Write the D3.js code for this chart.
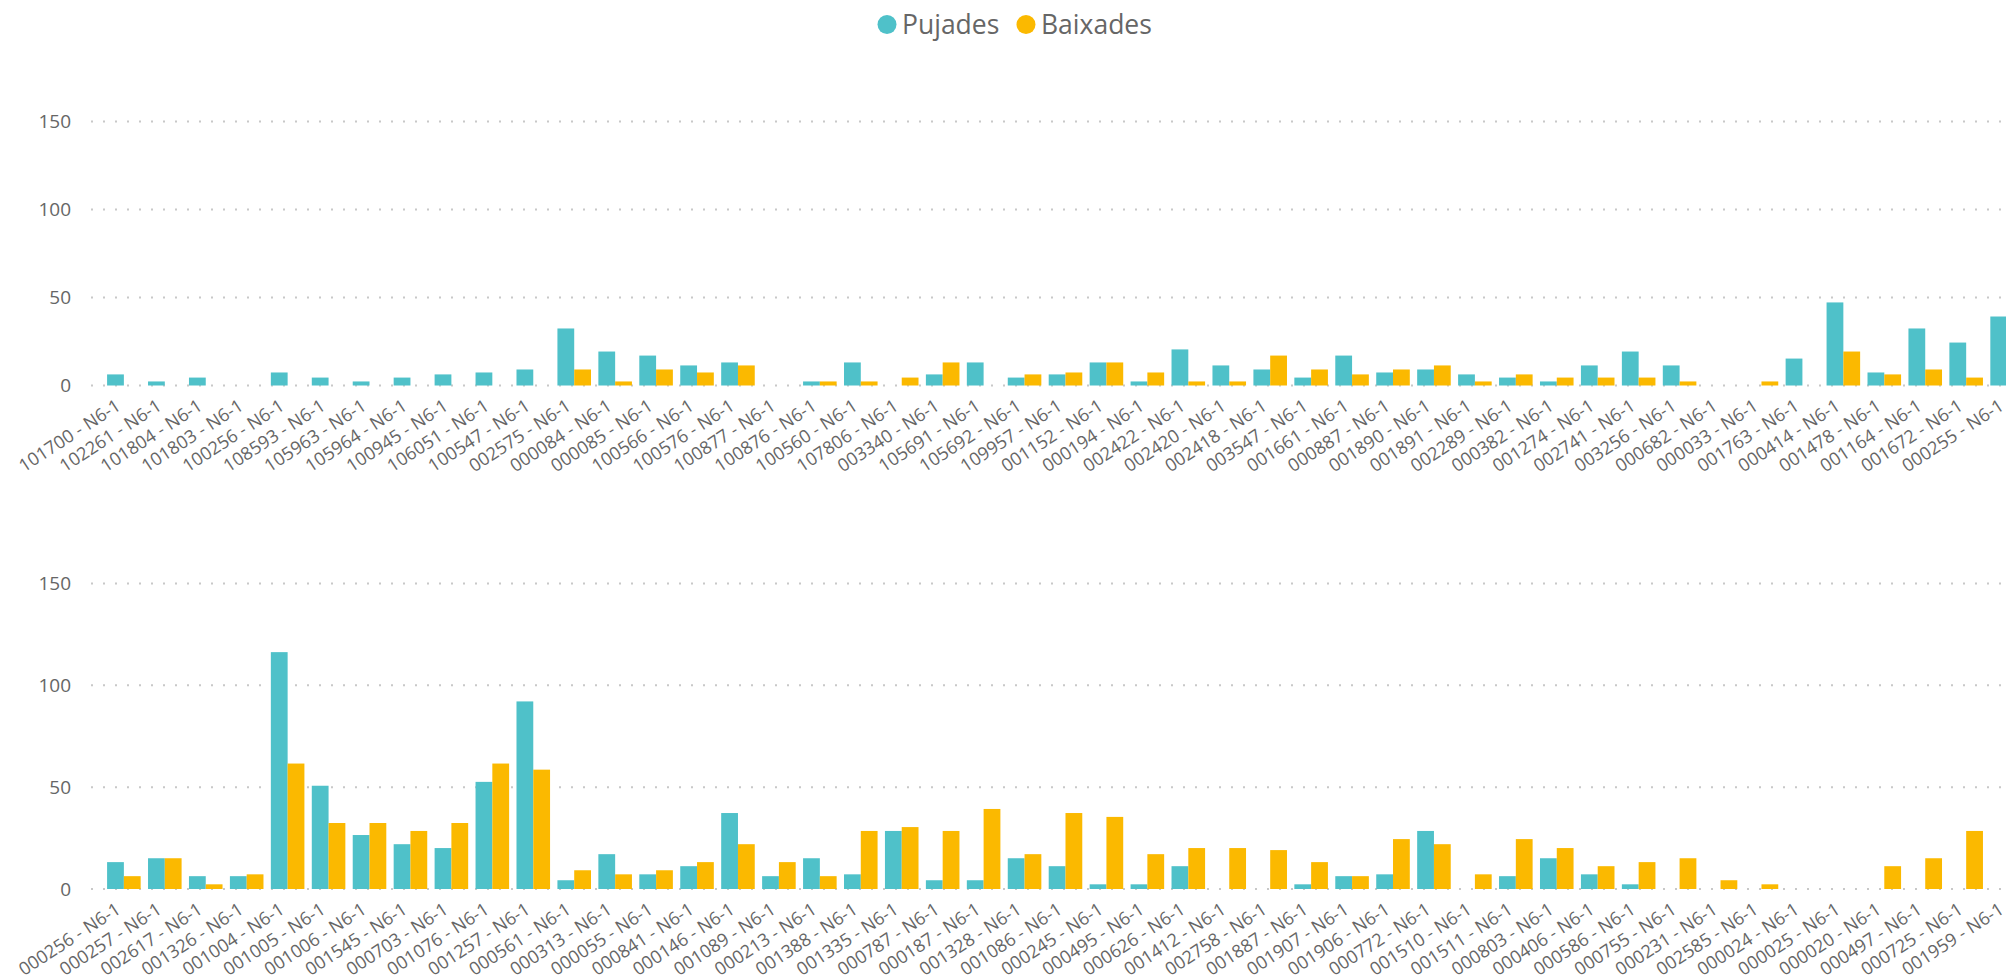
<!DOCTYPE html>
<html>
<head>
<meta charset="utf-8">
<script src="https://cdnjs.cloudflare.com/ajax/libs/d3/7.8.5/d3.min.js"></script>
<style>
    body { margin: 0; background: #fff; overflow: hidden; }
    text { font-family: "Segoe UI", "Open Sans", sans-serif; fill: #666666; }
</style>
</head>
<body>
<div class="chart"></div>
<script>
// Pujades / Baixades per equip - two panels

var seriesNames = ["Pujades", "Baixades"];
var seriesColors = ["#4FC1C9", "#FBB900"];
var yTicks = [0, 50, 100, 150];

// top panel
var topCategories = ["101700 - N6-1", "102261 - N6-1", "101804 - N6-1", "101803 - N6-1", "100256 - N6-1",
    "108593 - N6-1", "105963 - N6-1", "105964 - N6-1", "100945 - N6-1", "106051 - N6-1", "100547 - N6-1",
    "002575 - N6-1", "000084 - N6-1", "000085 - N6-1", "100566 - N6-1", "100576 - N6-1", "100877 - N6-1",
    "100876 - N6-1", "100560 - N6-1", "107806 - N6-1", "003340 - N6-1", "105691 - N6-1", "105692 - N6-1",
    "109957 - N6-1", "001152 - N6-1", "000194 - N6-1", "002422 - N6-1", "002420 - N6-1", "002418 - N6-1",
    "003547 - N6-1", "001661 - N6-1", "000887 - N6-1", "001890 - N6-1", "001891 - N6-1", "002289 - N6-1",
    "000382 - N6-1", "001274 - N6-1", "002741 - N6-1", "003256 - N6-1", "000682 - N6-1", "000033 - N6-1",
    "001763 - N6-1", "000414 - N6-1", "001478 - N6-1", "001164 - N6-1", "001672 - N6-1", "000255 - N6-1"];
var topPujades = [6.3, 2.3, 4.5, 0, 7.4, 4.5, 2.3, 4.5, 6.3, 7.4, 9.1, 32.4, 19.3, 17.0, 11.4, 13.1, 0,
    2.3, 13.1, 0, 6.3, 13.1, 4.5, 6.3, 13.1, 2.3, 20.5, 11.4, 9.1, 4.5, 17.0, 7.4, 9.1, 6.3, 4.5,
    2.3, 11.4, 19.3, 11.4, 0, 0, 15.3, 47.2, 7.4, 32.4, 24.4, 39.2];
var topBaixades = [0, 0, 0, 0, 0, 0, 0, 0, 0, 0, 0, 9.1, 2.3, 9.1, 7.4, 11.4, 0,
    2.3, 2.3, 4.5, 13.1, 0, 6.3, 7.4, 13.1, 7.4, 2.3, 2.3, 17.0, 9.1, 6.3, 9.1, 11.4, 2.3, 6.3,
    4.5, 4.5, 4.5, 2.3, 0, 2.3, 0, 19.3, 6.3, 9.1, 4.5, 0];

// bottom panel
var bottomCategories = ["000256 - N6-1", "000257 - N6-1", "002617 - N6-1", "001326 - N6-1", "001004 - N6-1",
    "001005 - N6-1", "001006 - N6-1", "001545 - N6-1", "000703 - N6-1", "001076 - N6-1", "001257 - N6-1",
    "000561 - N6-1", "000313 - N6-1", "000055 - N6-1", "000841 - N6-1", "000146 - N6-1", "001089 - N6-1",
    "000213 - N6-1", "001388 - N6-1", "001335 - N6-1", "000787 - N6-1", "000187 - N6-1", "001328 - N6-1",
    "001086 - N6-1", "000245 - N6-1", "000495 - N6-1", "000626 - N6-1", "001412 - N6-1", "002758 - N6-1",
    "001887 - N6-1", "001907 - N6-1", "001906 - N6-1", "000772 - N6-1", "001510 - N6-1", "001511 - N6-1",
    "000803 - N6-1", "000406 - N6-1", "000586 - N6-1", "000755 - N6-1", "000231 - N6-1", "002585 - N6-1",
    "000024 - N6-1", "000025 - N6-1", "000020 - N6-1", "000497 - N6-1", "000725 - N6-1", "001959 - N6-1"];
var bottomPujades = [13.2, 15.1, 6.3, 6.3, 116.3, 50.7, 26.5, 22.0, 20.1, 52.6, 92.1, 4.3, 17.1, 7.2,
    11.2, 37.3, 6.3, 15.1, 7.2, 28.5, 4.3, 4.3, 15.1, 11.2, 2.3, 2.3, 11.2, 0, 0, 2.3, 6.3, 7.2,
    28.5, 0, 6.3, 15.1, 7.2, 2.3, 0, 0, 0, 0, 0, 0, 0, 0, 0];
var bottomBaixades = [6.3, 15.1, 2.3, 7.2, 61.6, 32.4, 32.4, 28.5, 32.4, 61.6, 58.6, 9.2, 7.2, 9.2,
    13.2, 22.0, 13.2, 6.3, 28.5, 30.4, 28.5, 39.3, 17.1, 37.3, 35.4, 17.1, 20.1, 20.1, 19.1, 13.2,
    6.3, 24.5, 22.0, 7.2, 24.5, 20.1, 11.2, 13.2, 15.1, 4.3, 2.3, 0, 0, 11.2, 15.1, 28.5, 0];

var svgWidth = 2006;
var svgHeight = 980;

var svg = d3.select(".chart")
    .append("svg")
    .attr("width", svgWidth)
    .attr("height", svgHeight);

// legend
var legend = svg.append("g");
var legendX = [887, 1026];
seriesNames.forEach(function (name, i) {
    legend.append("circle")
        .attr("cx", legendX[i])
        .attr("cy", 24.5)
        .attr("r", 9.5)
        .attr("fill", seriesColors[i]);
    legend.append("text")
        .attr("x", legendX[i] + 15)
        .attr("y", 34)
        .style("font-size", "26.5px")
        .text(name);
});

function drawPanel(categories, pujades, baixades, yBottom, yTop) {

    var data = categories.map(function (c, i) {
        return { cat: c, values: [pujades[i], baixades[i]] };
    });

    // scales - plot runs past the right edge of the window, like the original
    var x0 = d3.scaleBand()
        .domain(categories)
        .range([103.4, 103.4 + 47 * 40.94])
        .paddingInner(0.18)
        .paddingOuter(0.09);

    var x1 = d3.scaleBand()
        .domain(seriesNames)
        .range([0, x0.bandwidth()]);

    var y = d3.scaleLinear()
        .domain([0, 150])
        .range([yBottom, yTop]);

    // dotted gridlines
    var grid = svg.append("g");
    grid.selectAll("line")
        .data(yTicks)
        .enter()
        .append("line")
        .attr("x1", 91)
        .attr("x2", svgWidth)
        .attr("y1", d => y(d))
        .attr("y2", d => y(d))
        .attr("stroke", "#C8C8C8")
        .attr("stroke-width", 2)
        .attr("stroke-dasharray", "2 10");

    // y axis labels
    var leftAxis = d3.axisLeft(y).tickValues(yTicks).tickSize(0).tickPadding(0);
    var yAxis = svg.append("g")
        .attr("transform", "translate(71,0)")
        .call(leftAxis);
    yAxis.select(".domain").remove();
    yAxis.selectAll("text")
        .style("font-size", "19px")
        .attr("fill", "#666666");

    // bars
    var groups = svg.append("g")
        .selectAll("g")
        .data(data)
        .enter()
        .append("g")
        .attr("transform", d => `translate(${x0(d.cat)},0)`);

    groups.selectAll("rect")
        .data(d => d.values.map(function (v, i) { return { key: seriesNames[i], value: v }; }))
        .enter()
        .append("rect")
        .attr("x", d => x1(d.key))
        .attr("y", d => y(d.value))
        .attr("width", x1.bandwidth())
        .attr("height", d => y(0) - y(d.value))
        .attr("fill", (d, i) => seriesColors[i]);

    // x axis labels, rotated
    var bottomAxis = d3.axisBottom(x0).tickSize(0).tickPadding(0);
    var xAxis = svg.append("g")
        .attr("transform", `translate(0,${yBottom})`)
        .call(bottomAxis);
    xAxis.select(".domain").remove();
    xAxis.selectAll("text")
        .style("font-size", "18px")
        .attr("fill", "#666666")
        .attr("text-anchor", "end")
        .attr("dy", null)
        .attr("y", null)
        .attr("transform", "translate(-2,23.5) rotate(-33)");
}

drawPanel(topCategories, topPujades, topBaixades, 385.5, 121.5);
drawPanel(bottomCategories, bottomPujades, bottomBaixades, 889, 583.5);
</script>
</body>
</html>
